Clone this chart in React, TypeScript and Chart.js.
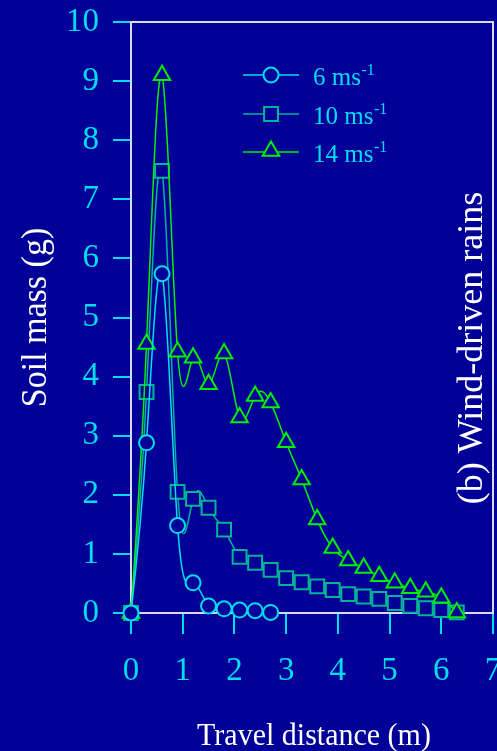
import React, { useEffect, useRef } from "react";
import { Chart, registerables } from "chart.js";

Chart.register(...registerables);

// ---------- data ----------
const distance6 = [0, 0.3, 0.6, 0.9, 1.2, 1.5, 1.8, 2.1, 2.4, 2.7];
const soil6 = [0, 2.88, 5.74, 1.48, 0.51, 0.12, 0.07, 0.05, 0.04, 0.01];

const distance = [0, 0.3, 0.6, 0.9, 1.2, 1.5, 1.8, 2.1, 2.4, 2.7, 3.0, 3.3, 3.6, 3.9, 4.2, 4.5, 4.8, 5.1, 5.4, 5.7, 6.0, 6.3];
const soil10 = [0, 3.74, 7.48, 2.05, 1.93, 1.78, 1.41, 0.95, 0.85, 0.73, 0.59, 0.52, 0.45, 0.39, 0.32, 0.28, 0.24, 0.17, 0.12, 0.08, 0.05, 0.01];
const soil14 = [0, 4.55, 9.1, 4.42, 4.32, 3.87, 4.39, 3.31, 3.67, 3.56, 2.89, 2.26, 1.58, 1.1, 0.89, 0.76, 0.62, 0.51, 0.42, 0.36, 0.26, 0.01];

const seriesLabels = ["6 ms", "10 ms", "14 ms"];
const xTicks = [0, 1, 2, 3, 4, 5, 6, 7];
const yTicks = [0, 1, 2, 3, 4, 5, 6, 7, 8, 9, 10];

const xTitle = "Travel distance (m)";
const yTitle = "Soil mass (g)";
const panelLabel = "(b) Wind-driven rains";

// ---------- style ----------
const BG = "#000099";
const CYAN = "#00DDEE";
const TEAL = "#00B496";
const GREEN = "#00F000";
const FRAME = "#D8D8F0";
const SERIF = "'Liberation Serif', 'Times New Roman', serif";

const seriesColors = [CYAN, TEAL, GREEN];
const seriesStyles = ["circle", "rect", "triangle"];
const seriesRadii = [7.5, 9.8, 9.5];

const AREA = { left: 131, right: 493, top: 22, bottom: 613 };

function toPoints(xs: number[], ys: number[]) {
  return xs.map((x, i) => ({ x, y: ys[i] }));
}

// natural cubic spline slopes
function naturalSlopes(xs: number[], ys: number[]): number[] {
  const n = xs.length;
  const m = new Array(n).fill(0);
  if (n < 2) return m;
  if (n === 2) {
    const s = (ys[1] - ys[0]) / (xs[1] - xs[0]);
    return [s, s];
  }
  const h: number[] = [];
  for (let i = 0; i < n - 1; i++) h.push(xs[i + 1] - xs[i]);
  const M = new Array(n).fill(0);
  const a: number[] = [], b: number[] = [], c: number[] = [], d: number[] = [];
  for (let i = 1; i < n - 1; i++) {
    a.push(h[i - 1]);
    b.push(2 * (h[i - 1] + h[i]));
    c.push(h[i]);
    d.push(6 * ((ys[i + 1] - ys[i]) / h[i] - (ys[i] - ys[i - 1]) / h[i - 1]));
  }
  const k = b.length;
  const cp = new Array(k).fill(0);
  const dp = new Array(k).fill(0);
  cp[0] = c[0] / b[0];
  dp[0] = d[0] / b[0];
  for (let i = 1; i < k; i++) {
    const den = b[i] - a[i] * cp[i - 1];
    cp[i] = c[i] / den;
    dp[i] = (d[i] - a[i] * dp[i - 1]) / den;
  }
  const sol = new Array(k).fill(0);
  sol[k - 1] = dp[k - 1];
  for (let i = k - 2; i >= 0; i--) sol[i] = dp[i] - cp[i] * sol[i + 1];
  for (let i = 0; i < k; i++) M[i + 1] = sol[i];
  for (let i = 0; i < n - 1; i++) {
    m[i] = (ys[i + 1] - ys[i]) / h[i] - (h[i] * (2 * M[i] + M[i + 1])) / 6;
  }
  m[n - 1] = (ys[n - 1] - ys[n - 2]) / h[n - 2] + (h[n - 2] * (M[n - 2] + 2 * M[n - 1])) / 6;
  return m;
}

const splinePlugin = {
  id: "naturalSpline",
  beforeDatasetDraw(chart: any, args: any) {
    const meta = args.meta;
    const line = meta.dataset;
    if (!line) return;
    if (typeof line.updateControlPoints === "function") {
      line.updateControlPoints(chart.chartArea, "x");
    }
    const data = chart.data.datasets[args.index].data as { x: number; y: number }[];
    const xs = data.map((p) => p.x);
    const ys = data.map((p) => p.y);
    const m = naturalSlopes(xs, ys);
    const sx = chart.scales.x;
    const sy = chart.scales.y;
    const pts = meta.data;
    const n = pts.length;
    for (let i = 0; i < n; i++) {
      const p = pts[i];
      if (i > 0) {
        const h = xs[i] - xs[i - 1];
        p.cp1x = sx.getPixelForValue(xs[i] - h / 3);
        p.cp1y = sy.getPixelForValue(ys[i] - (m[i] * h) / 3);
      } else {
        p.cp1x = p.x;
        p.cp1y = p.y;
      }
      if (i < n - 1) {
        const h = xs[i + 1] - xs[i];
        p.cp2x = sx.getPixelForValue(xs[i] + h / 3);
        p.cp2y = sy.getPixelForValue(ys[i] + (m[i] * h) / 3);
      } else {
        p.cp2x = p.x;
        p.cp2y = p.y;
      }
    }
    line._path = undefined;
  },
};

function drawMarker(ctx: CanvasRenderingContext2D, style: string, x: number, y: number, r: number, color: string) {
  ctx.save();
  ctx.beginPath();
  if (style === "circle") {
    ctx.arc(x, y, r, 0, Math.PI * 2);
  } else if (style === "rect") {
    const s = r * Math.SQRT1_2;
    ctx.rect(x - s, y - s, 2 * s, 2 * s);
  } else {
    let ang = 0;
    ctx.moveTo(x + Math.sin(ang) * r, y - Math.cos(ang) * r);
    ang += (2 * Math.PI) / 3;
    ctx.lineTo(x + Math.sin(ang) * r, y - Math.cos(ang) * r);
    ang += (2 * Math.PI) / 3;
    ctx.lineTo(x + Math.sin(ang) * r, y - Math.cos(ang) * r);
    ctx.closePath();
  }
  ctx.fillStyle = BG;
  ctx.fill();
  ctx.lineWidth = 2;
  ctx.strokeStyle = color;
  ctx.stroke();
  ctx.restore();
}

const framePlugin = {
  id: "frame",
  beforeDatasetsDraw(chart: any) {
    const { ctx, chartArea: a } = chart;
    ctx.save();
    ctx.strokeStyle = FRAME;
    ctx.lineWidth = 2;
    ctx.strokeRect(a.left, a.top, a.right - a.left, a.bottom - a.top);
    ctx.restore();
  },
};

const textPlugin = {
  id: "texts",
  afterDraw(chart: any) {
    const { ctx, chartArea: a } = chart;
    ctx.save();
    ctx.fillStyle = "#FFFFFF";

    // y title
    ctx.save();
    ctx.translate(46, (a.top + a.bottom) / 2);
    ctx.rotate(-Math.PI / 2);
    ctx.scale(1, 1.08);
    ctx.font = `34px ${SERIF}`;
    ctx.textAlign = "center";
    ctx.textBaseline = "alphabetic";
    ctx.fillText(yTitle, 0, 0);
    ctx.restore();

    // x title
    ctx.save();
    ctx.translate((a.left + a.right) / 2 + 2, 745);
    ctx.scale(1, 1.08);
    ctx.font = `30px ${SERIF}`;
    ctx.textAlign = "center";
    ctx.textBaseline = "alphabetic";
    ctx.fillText(xTitle, 0, 0);
    ctx.restore();

    // panel label
    ctx.save();
    ctx.translate(482, 348);
    ctx.rotate(-Math.PI / 2);
    ctx.font = `36px ${SERIF}`;
    ctx.textAlign = "center";
    ctx.textBaseline = "alphabetic";
    ctx.fillText(panelLabel, 0, 0);
    ctx.restore();

    // legend
    const rows = [75, 114, 152];
    for (let i = 0; i < 3; i++) {
      const y = rows[i];
      ctx.save();
      ctx.strokeStyle = seriesColors[i];
      ctx.lineWidth = 1.5;
      ctx.beginPath();
      ctx.moveTo(243, y);
      ctx.lineTo(299, y);
      ctx.stroke();
      ctx.restore();
      drawMarker(ctx, seriesStyles[i], 271, i === 2 ? y - 1 : y, seriesRadii[i], seriesColors[i]);
      ctx.save();
      ctx.fillStyle = CYAN;
      ctx.textAlign = "left";
      ctx.textBaseline = "alphabetic";
      ctx.font = `25px ${SERIF}`;
      const base = y + 10;
      ctx.fillText(seriesLabels[i], 313, base);
      const w = ctx.measureText(seriesLabels[i]).width;
      ctx.font = `16px ${SERIF}`;
      ctx.fillText("-1", 313 + w + 0.5, y);
      ctx.restore();
    }
    ctx.restore();
  },
};

export default function App() {
  const ref = useRef<HTMLCanvasElement | null>(null);

  useEffect(() => {
    document.body.style.margin = "0";
    document.body.style.background = BG;
    const canvas = ref.current;
    if (!canvas) return;

    const datasets = [
      { label: seriesLabels[0], data: toPoints(distance6, soil6), order: 0 },
      { label: seriesLabels[1], data: toPoints(distance, soil10), order: 2 },
      { label: seriesLabels[2], data: toPoints(distance, soil14), order: 1 },
    ].map((d, i) => ({
      ...d,
      borderColor: seriesColors[i],
      borderWidth: 1.5,
      pointStyle: seriesStyles[i],
      pointRadius: seriesRadii[i],
      pointBorderWidth: 2,
      pointBorderColor: seriesColors[i],
      pointBackgroundColor: BG,
      tension: 0.4,
      capBezierPoints: false,
      fill: false,
      clip: false as any,
    }));

    const chart = new Chart(canvas, {
      type: "line",
      data: { datasets },
      plugins: [splinePlugin, framePlugin, textPlugin],
      options: {
        responsive: false,
        animation: false,
        devicePixelRatio: 1,
        parsing: false as any,
        layout: { autoPadding: false, padding: { top: 22, right: 4, bottom: 0, left: 0 } },
        plugins: { legend: { display: false }, tooltip: { enabled: false }, title: { display: false } },
        scales: {
          x: {
            type: "linear",
            min: xTicks[0],
            max: xTicks[xTicks.length - 1],
            afterBuildTicks: (s: any) => {
              s.ticks = xTicks.map((v) => ({ value: v }));
            },
            afterFit: (s: any) => {
              s.height = 138;
              s.paddingLeft = 0;
              s.paddingRight = 0;
            },
            ticks: {
              color: CYAN,
              font: { family: SERIF, size: 33 },
              padding: 18,
              maxRotation: 0,
              autoSkip: false,
            },
            grid: { drawOnChartArea: false, drawTicks: true, tickLength: 21, color: CYAN, lineWidth: 2 },
            border: { display: false },
          },
          y: {
            type: "linear",
            min: yTicks[0],
            max: yTicks[yTicks.length - 1],
            afterBuildTicks: (s: any) => {
              s.ticks = yTicks.map((v) => ({ value: v }));
            },
            afterFit: (s: any) => {
              s.width = 131;
              s.paddingTop = 0;
              s.paddingBottom = 0;
            },
            ticks: {
              color: CYAN,
              font: { family: SERIF, size: 33 },
              padding: 14,
              autoSkip: false,
            },
            grid: { drawOnChartArea: false, drawTicks: true, tickLength: 18, color: CYAN, lineWidth: 2 },
            border: { display: false },
          },
        },
      },
    } as any);

    // nudge layout so that the plot area lands where the reference has it
    for (let k = 0; k < 4; k++) {
      const a = chart.chartArea;
      const p = (chart.options as any).layout.padding;
      const dl = AREA.left - a.left;
      const dr = a.right - AREA.right;
      const dt = AREA.top - a.top;
      const db = a.bottom - AREA.bottom;
      if (Math.abs(dl) < 0.5 && Math.abs(dr) < 0.5 && Math.abs(dt) < 0.5 && Math.abs(db) < 0.5) break;
      p.left += dl;
      p.right += dr;
      p.top += dt;
      p.bottom += db;
      chart.update();
    }

    return () => chart.destroy();
  }, []);

  return (
    <div style={{ width: 497, height: 751, background: BG }}>
      <canvas ref={ref} width={497} height={751} style={{ display: "block" }} />
    </div>
  );
}
